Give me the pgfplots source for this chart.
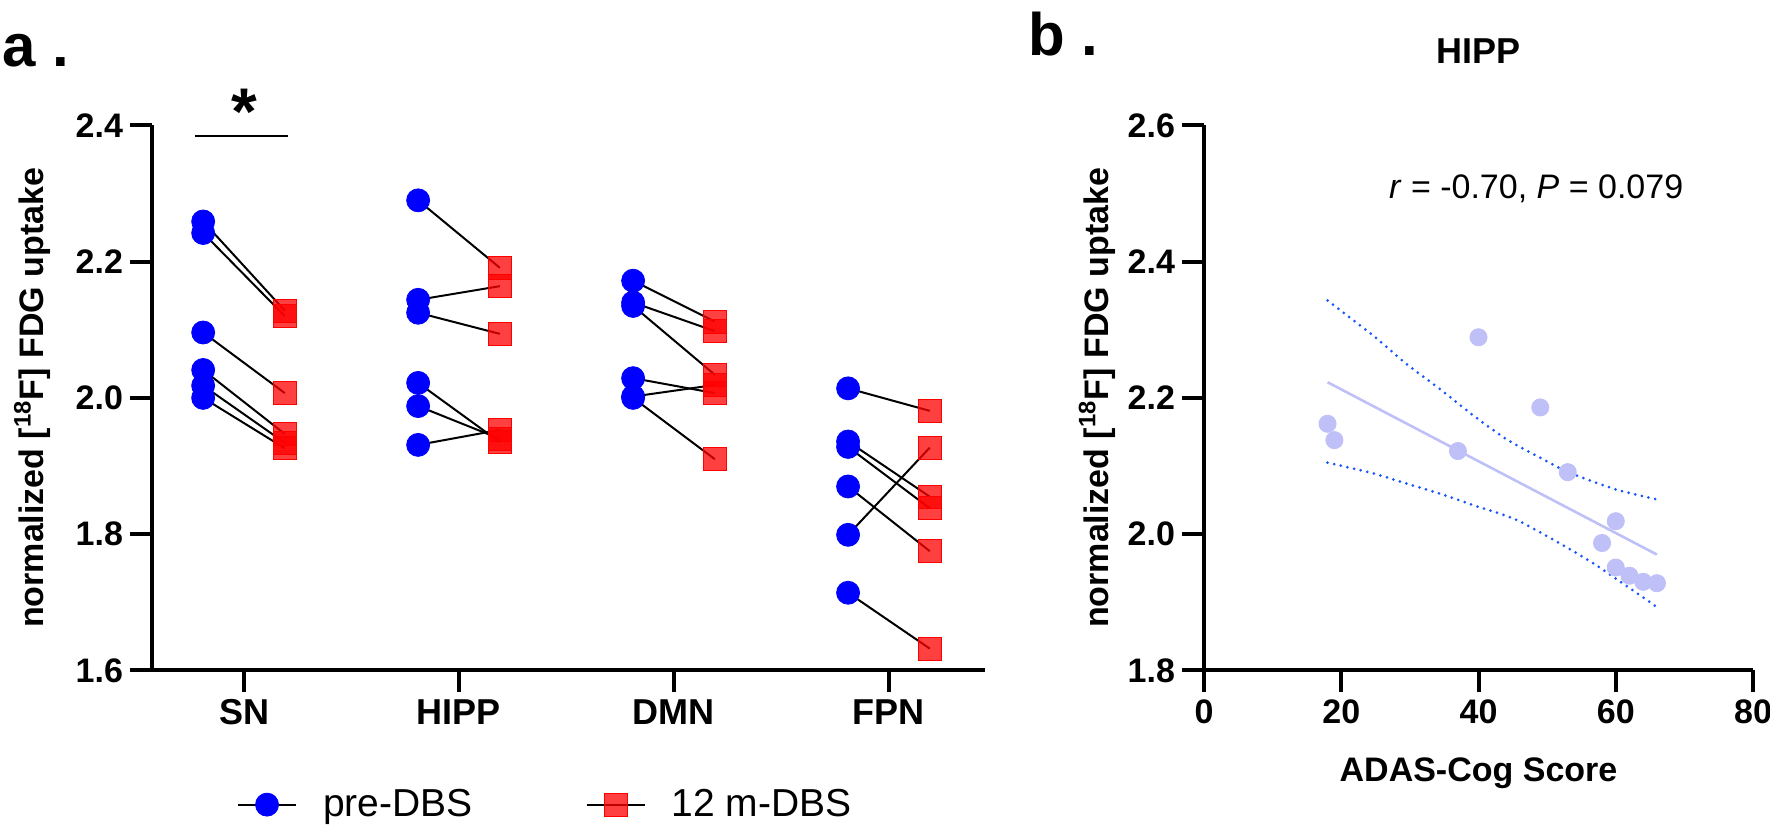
\documentclass[border=0pt]{standalone}
\usepackage{fontspec}
\setmainfont{Liberation Sans}
\usepackage{pgfplots}
\pgfplotsset{compat=1.18}
\definecolor{mblue}{RGB}{0,0,255}
\definecolor{mred}{RGB}{255,0,0}
\definecolor{lav}{RGB}{192,192,248}
\definecolor{dotblue}{RGB}{25,85,255}
\pgfplotsset{
  mystyle/.style={
    scale only axis,
    axis lines=left,
    axis line style={line width=2pt,-},
    tick style={line width=2pt,black},
    major tick length=11pt,
    tick align=outside,
    enlargelimits=false,
    /pgf/number format/assume math mode=true,
    tick label style={font=\fontsize{17}{17}\selectfont\bfseries},
    label style={font=\fontsize{17}{17}\selectfont\bfseries},
    y tick label style={/pgf/number format/fixed,/pgf/number format/fixed zerofill,/pgf/number format/precision=1},
    clip=false,
  }
}
\begin{document}
\begin{tikzpicture}
\path[use as bounding box] (0,0) rectangle (885pt,414.5pt);
\node[anchor=base west,font=\fontsize{30}{30}\selectfont\bfseries,inner sep=0pt] at (1pt,381pt) {a .};
\node[anchor=base west,font=\fontsize{30}{30}\selectfont\bfseries,inner sep=0pt] at (514pt,386.5pt) {b .};
% ---------------- panel a
\begin{axis}[mystyle, at={(76pt,79.3pt)}, anchor=south west,
  width=416.5pt, height=272.5pt,
  xmin=-0.428, xmax=3.447, ymin=1.6, ymax=2.4,
  xtick={0,1,2,3}, xticklabels={SN,HIPP,DMN,FPN},
  x tick label style={font=\fontsize{18}{18}\selectfont\bfseries},
  ytick={1.6,1.8,2.0,2.2,2.4},
  ylabel={normalized [\textsuperscript{18}F] FDG uptake},
  ylabel style={at={(axis description cs:-0.144,0.5)},anchor=center},
  legend columns=2,
  legend cell align=left,
  legend image code/.code={\draw[black,line width=1pt] (0pt,0pt) -- (29pt,0pt); \draw[#1] plot coordinates {(14.5pt,0pt)};},
  legend style={draw=none,fill=none,inner sep=0pt,
    at={(axis description cs:0.1016,-0.2463)},anchor=west,
    font=\fontsize{19.5}{19.5}\selectfont,
    /tikz/every odd column/.style={column sep=11pt},
    /tikz/every even column/.style={column sep=54.5pt}},
]
% SN
\addplot[black,line width=1pt,forget plot] coordinates {(-0.19,2.259) (0.19,2.128)};
\addplot[black,line width=1pt,forget plot] coordinates {(-0.19,2.242) (0.19,2.120)};
\addplot[black,line width=1pt,forget plot] coordinates {(-0.19,2.096) (0.19,2.007)};
\addplot[black,line width=1pt,forget plot] coordinates {(-0.19,2.041) (0.19,1.947)};
\addplot[black,line width=1pt,forget plot] coordinates {(-0.19,2.018) (0.19,1.934)};
\addplot[black,line width=1pt,forget plot] coordinates {(-0.19,2.000) (0.19,1.926)};
% HIPP
\addplot[black,line width=1pt,forget plot] coordinates {(0.81,2.290) (1.19,2.191)};
\addplot[black,line width=1pt,forget plot] coordinates {(0.81,2.144) (1.19,2.164)};
\addplot[black,line width=1pt,forget plot] coordinates {(0.81,2.125) (1.19,2.094)};
\addplot[black,line width=1pt,forget plot] coordinates {(0.81,2.022) (1.19,1.935)};
\addplot[black,line width=1pt,forget plot] coordinates {(0.81,1.988) (1.19,1.940)};
\addplot[black,line width=1pt,forget plot] coordinates {(0.81,1.931) (1.19,1.953)};
% DMN
\addplot[black,line width=1pt,forget plot] coordinates {(1.81,2.172) (2.19,2.112)};
\addplot[black,line width=1pt,forget plot] coordinates {(1.81,2.140) (2.19,2.098)};
\addplot[black,line width=1pt,forget plot] coordinates {(1.81,2.135) (2.19,2.034)};
\addplot[black,line width=1pt,forget plot] coordinates {(1.81,2.029) (2.19,2.007)};
\addplot[black,line width=1pt,forget plot] coordinates {(1.81,2.002) (2.19,2.019)};
\addplot[black,line width=1pt,forget plot] coordinates {(1.81,2.000) (2.19,1.910)};
% FPN
\addplot[black,line width=1pt,forget plot] coordinates {(2.81,2.014) (3.19,1.981)};
\addplot[black,line width=1pt,forget plot] coordinates {(2.81,1.936) (3.19,1.855)};
\addplot[black,line width=1pt,forget plot] coordinates {(2.81,1.928) (3.19,1.838)};
\addplot[black,line width=1pt,forget plot] coordinates {(2.81,1.870) (3.19,1.775)};
\addplot[black,line width=1pt,forget plot] coordinates {(2.81,1.799) (3.19,1.927)};
\addplot[black,line width=1pt,forget plot] coordinates {(2.81,1.714) (3.19,1.632)};
% significance bar
\addplot[black,line width=1pt,forget plot] coordinates {(-0.23,2.384) (0.205,2.384)};
% markers
\addplot[only marks,mark=*,mark size=5.75pt,color=mblue,mark options={fill=mblue,draw=none}] coordinates {
(-0.19,2.259) (-0.19,2.242) (-0.19,2.096) (-0.19,2.041) (-0.19,2.018) (-0.19,2.000)
(0.81,2.290) (0.81,2.144) (0.81,2.125) (0.81,2.022) (0.81,1.988) (0.81,1.931)
(1.81,2.172) (1.81,2.140) (1.81,2.135) (1.81,2.029) (1.81,2.002) (1.81,2.000)
(2.81,2.014) (2.81,1.936) (2.81,1.928) (2.81,1.870) (2.81,1.799) (2.81,1.714)};
\addlegendentry{pre-DBS}
\addplot[only marks,mark=square*,mark size=5.75pt,color=mred,mark options={fill=mred,draw=none,fill opacity=0.75}] coordinates {
(0.19,2.128) (0.19,2.120) (0.19,2.007) (0.19,1.947) (0.19,1.934) (0.19,1.926)
(1.19,2.191) (1.19,2.164) (1.19,2.094) (1.19,1.935) (1.19,1.940) (1.19,1.953)
(2.19,2.112) (2.19,2.098) (2.19,2.034) (2.19,2.007) (2.19,2.019) (2.19,1.910)
(3.19,1.981) (3.19,1.855) (3.19,1.838) (3.19,1.775) (3.19,1.927) (3.19,1.632)};
\addlegendentry{12 m-DBS}
\node[anchor=base,font=\fontsize{33}{33}\selectfont\bfseries,inner sep=0pt] at (axis cs:0,2.387) {*};
\end{axis}
% ---------------- panel b
\begin{axis}[mystyle, at={(602pt,79.3pt)}, anchor=south west,
  width=274.5pt, height=272.5pt,
  xmin=0, xmax=80, ymin=1.8, ymax=2.6,
  xtick={0,20,40,60,80},
  ytick={1.8,2.0,2.2,2.4,2.6},
  xlabel={ADAS-Cog Score},
  xlabel style={at={(axis description cs:0.5,-0.204)},anchor=base},
  ylabel={normalized [\textsuperscript{18}F] FDG uptake},
  ylabel style={at={(axis description cs:-0.195,0.5)},anchor=center},
]
\addplot[dotblue,line width=1.5pt,dash pattern=on 0pt off 3.4pt,line cap=round,smooth] coordinates {
(18,2.343) (24.7,2.291) (29.6,2.249) (34.5,2.212) (39.4,2.173) (44.3,2.138) (49.2,2.111) (53.1,2.091) (59.9,2.066) (66,2.051)};
\addplot[dotblue,line width=1.5pt,dash pattern=on 0pt off 3.4pt,line cap=round,smooth] coordinates {
(18,2.105) (24.7,2.089) (29.6,2.074) (34.5,2.059) (39.4,2.042) (45.5,2.021) (52.6,1.982) (57.5,1.952) (66,1.893)};
\addplot[lav,line width=1.3pt] coordinates {(18,2.223) (66,1.970)};
\addplot[only marks,mark=*,mark size=4.3pt,color=lav,mark options={fill=lav,draw=none}] coordinates {
(18,2.162) (19,2.138) (37,2.122) (40,2.289) (49,2.186) (53,2.091) (58,1.987) (60,2.019) (60,1.951) (62,1.939) (64,1.930) (66,1.928)};
\node[anchor=base,font=\fontsize{18}{18}\selectfont\bfseries] at (axis description cs:0.5,1.1136) {HIPP};
\node[font=\fontsize{17}{17}\selectfont] at (axis cs:48.4,2.507) {\textit{r} = -0.70, \textit{P} = 0.079};
\end{axis}
\end{tikzpicture}
\end{document}
